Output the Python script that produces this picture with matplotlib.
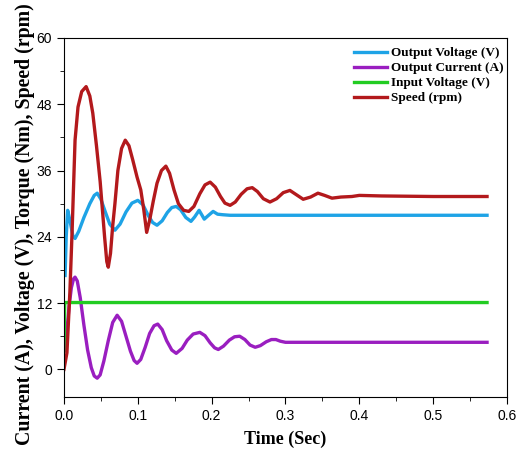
import matplotlib.pyplot as plt
from matplotlib.ticker import MultipleLocator

# data
t_vo = [0.0015, 0.003, 0.005, 0.008, 0.012, 0.015, 0.020, 0.027, 0.035, 0.041, 0.045, 0.050,
        0.056, 0.062, 0.069, 0.076, 0.084, 0.092, 0.100, 0.107, 0.114, 0.120, 0.126, 0.133,
        0.140, 0.146, 0.152, 0.158, 0.165, 0.172, 0.177, 0.183, 0.187, 0.190, 0.195, 0.202,
        0.208, 0.215, 0.225, 0.573]
v_out = [17, 24, 28.8, 27, 24.2, 23.7, 25, 27.5, 30, 31.5, 31.9, 30.8,
         28.5, 26.3, 25.2, 26.3, 28.5, 30.1, 30.6, 29.8, 27.9, 26.6, 26.1, 26.9,
         28.4, 29.3, 29.5, 28.9, 27.5, 26.8, 27.6, 28.8, 27.9, 27.2, 27.8, 28.6,
         28.1, 28.0, 27.9, 27.9]

t_io = [0.0015, 0.004, 0.007, 0.010, 0.013, 0.015, 0.018, 0.022, 0.027, 0.032, 0.037, 0.041,
        0.045, 0.049, 0.054, 0.060, 0.066, 0.072, 0.078, 0.084, 0.090, 0.095, 0.099, 0.104,
        0.110, 0.116, 0.122, 0.127, 0.133, 0.139, 0.146, 0.152, 0.160, 0.167, 0.175, 0.184,
        0.191, 0.198, 0.204, 0.209, 0.216, 0.224, 0.231, 0.238, 0.245, 0.252, 0.259, 0.266,
        0.274, 0.281, 0.287, 0.293, 0.300, 0.573]
i_out = [3.4, 7, 11.5, 14.8, 16.4, 16.7, 16, 13, 8, 3.5, 0.3, -1.2,
         -1.6, -1, 1.5, 5.2, 8.5, 9.8, 8.7, 6, 3.3, 1.6, 1.1, 1.8,
         4, 6.5, 7.9, 8.2, 7.2, 5.2, 3.5, 2.9, 3.8, 5.3, 6.4, 6.7,
         6.1, 4.8, 3.9, 3.6, 4.2, 5.3, 5.9, 6.0, 5.4, 4.4, 4.0, 4.3,
         5.0, 5.4, 5.4, 5.1, 4.9, 4.9]

t_vi = [0.0, 0.001, 0.573]
v_in = [3.3, 12.1, 12.1]

t_sp = [0.0, 0.004, 0.008, 0.011, 0.015, 0.019, 0.024, 0.030, 0.035, 0.039, 0.044, 0.049,
        0.055, 0.058, 0.060, 0.063, 0.066, 0.069, 0.073, 0.078, 0.083, 0.088, 0.093, 0.099,
        0.104, 0.108, 0.112, 0.116, 0.121, 0.126, 0.132, 0.138, 0.143, 0.149, 0.155, 0.162,
        0.169, 0.176, 0.184, 0.191, 0.198, 0.205, 0.212, 0.218, 0.225, 0.232, 0.240, 0.248,
        0.255, 0.262, 0.270, 0.279, 0.288, 0.297, 0.306, 0.315, 0.324, 0.334, 0.344, 0.353,
        0.363, 0.375, 0.390, 0.400, 0.430, 0.500, 0.573]
speed = [0, 3, 14, 25, 41.5, 47.5, 50.3, 51.2, 49.5, 46.4, 40.5, 34,
         24, 19.5, 18.5, 21, 26, 30, 36, 40, 41.5, 40.5, 38, 34.8,
         32.5, 29, 24.8, 27, 30.5, 33.7, 36, 36.8, 35.5, 32.5, 30, 28.8,
         28.6, 29.5, 31.8, 33.4, 33.9, 33, 31.3, 30.1, 29.7, 30.3, 31.7, 32.7,
         32.9, 32.2, 30.9, 30.3, 30.9, 32.0, 32.4, 31.6, 30.8, 31.2, 31.9, 31.5,
         31.0, 31.2, 31.3, 31.5, 31.4, 31.3, 31.3]

fig = plt.figure(figsize=(5.27, 4.54), dpi=100)
ax = fig.add_axes([0.1214, 0.1256, 0.8406, 0.7907])

lw = 2.4
ax.plot(t_vo, v_out, color='#1ea3e6', lw=lw, label='Output Voltage (V)')
ax.plot(t_io, i_out, color='#9a1ec0', lw=lw, label='Output Current (A)')
ax.plot(t_vi, v_in, color='#22cc22', lw=lw, label='Input Voltage (V)')
ax.plot(t_sp, speed, color='#b3191c', lw=lw, label='Speed (rpm)')

ax.set_xlim(0, 0.6)
ax.set_ylim(-5, 60)
ax.xaxis.set_major_locator(MultipleLocator(0.1))
ax.xaxis.set_minor_locator(MultipleLocator(0.05))
ax.yaxis.set_major_locator(MultipleLocator(12))
ax.yaxis.set_minor_locator(MultipleLocator(6))
ax.tick_params(which='both', direction='out', top=False, right=False)
ax.tick_params(which='major', length=5, labelsize=10)
ax.tick_params(which='minor', length=3)
for lab in ax.get_xticklabels() + ax.get_yticklabels():
    lab.set_family('Liberation Sans')

ax.set_xlabel('Time (Sec)', fontdict={'family': 'Liberation Serif', 'weight': 'bold', 'size': 13}, labelpad=6)
ax.set_ylabel('Current (A), Voltage (V), Torque (Nm), Speed (rpm)',
              fontdict={'family': 'Liberation Serif', 'weight': 'bold', 'size': 14.3})
ax.yaxis.set_label_coords(-0.065, 0.482)

ax.legend(loc='upper right', bbox_to_anchor=(1.0135, 1.0), frameon=False,
          prop={'family': 'Liberation Serif', 'weight': 'bold', 'size': 9.5},
          handlelength=2.5, handletextpad=0.3, labelspacing=0.21, borderaxespad=0.3)

fig.savefig('out.png', dpi=100)
